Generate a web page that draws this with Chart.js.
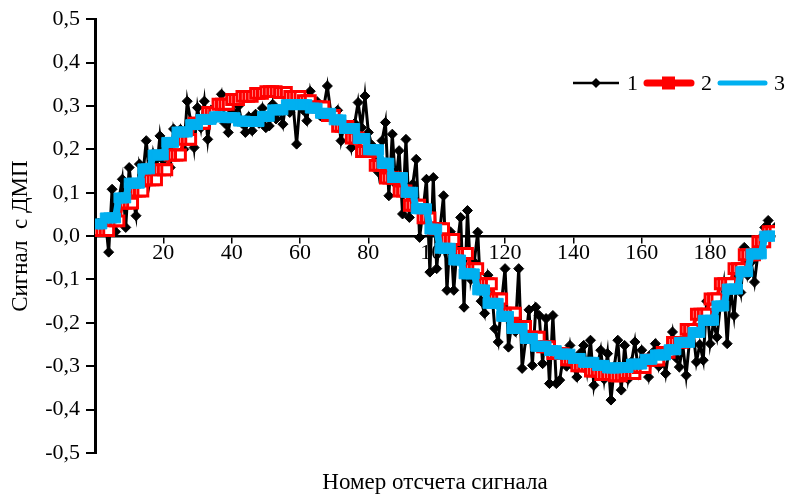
<!DOCTYPE html>
<html>
<head>
<meta charset="utf-8">
<script src="https://cdn.jsdelivr.net/npm/chart.js@4/dist/chart.umd.min.js"></script>
<style>
  html, body { margin: 0; padding: 0; background: #fff; }
  #wrap { width: 785px; height: 496px; }
</style>
</head>
<body>
<div id="wrap"><canvas id="chart" width="785" height="496"></canvas></div>
<script>
// Сигнал 1 - измеренный (шумный)
const signal1 = [
  0.03, 0.02, 0.04, -0.037, 0.108, 0.01, 0.085, 0.131, 0.02, 0.158,
  0.09, 0.047, 0.166, 0.14, 0.22, 0.13, 0.19, 0.15, 0.231, 0.175,
  0.2, 0.158, 0.247, 0.22, 0.246, 0.2, 0.311, 0.265, 0.204, 0.296,
  0.25, 0.311, 0.223, 0.29, 0.27, 0.3, 0.327, 0.26, 0.239, 0.29,
  0.28, 0.3, 0.26, 0.239, 0.275, 0.243, 0.281, 0.26, 0.295, 0.25,
  0.254, 0.304, 0.27, 0.29, 0.258, 0.319, 0.285, 0.3, 0.212, 0.31,
  0.29, 0.266, 0.334, 0.3, 0.31, 0.277, 0.3, 0.346, 0.285, 0.265,
  0.29, 0.22, 0.26, 0.245, 0.204, 0.26, 0.308, 0.25, 0.323, 0.239,
  0.21, 0.2, 0.147, 0.22, 0.262, 0.093, 0.235, 0.12, 0.197, 0.051,
  0.223, 0.043, 0.12, 0.177, -0.003, 0.06, 0.131, -0.083, 0.135, -0.075,
  0.02, 0.093, -0.125, 0.01, -0.125, -0.02, 0.043, -0.164, 0.059, -0.1,
  -0.06, 0.009, -0.15, -0.178, -0.09, -0.114, -0.213, -0.244, -0.15, -0.075,
  -0.256, -0.2, -0.22, -0.075, -0.305, -0.24, -0.17, -0.298, -0.164, -0.183,
  -0.294, -0.19, -0.34, -0.183, -0.34, -0.332, -0.28, -0.3, -0.252, -0.3,
  -0.325, -0.27, -0.252, -0.31, -0.24, -0.344, -0.3, -0.263, -0.33, -0.271,
  -0.378, -0.3, -0.24, -0.355, -0.252, -0.33, -0.29, -0.244, -0.31, -0.263,
  -0.29, -0.325, -0.27, -0.248, -0.3, -0.27, -0.317, -0.26, -0.221, -0.28,
  -0.302, -0.25, -0.321, -0.24, -0.217, -0.29, -0.25, -0.286, -0.15, -0.248,
  -0.2, -0.233, -0.16, -0.11, -0.248, -0.12, -0.183, -0.09, -0.13, -0.026,
  -0.09, -0.06, -0.106, -0.04, -0.003, 0.02, 0.036, 0.01, 0.02
];

// Сигнал 2 - сглаженный (красный), ступенчатый
const signal2 = [
  0.013, 0.013, 0.013, 0.013, 0.035, 0.035, 0.035, 0.076, 0.076, 0.076,
  0.076, 0.104, 0.104, 0.104, 0.13, 0.13, 0.13, 0.13, 0.153, 0.153,
  0.153, 0.187, 0.187, 0.187, 0.187, 0.223, 0.223, 0.223, 0.26, 0.26,
  0.26, 0.26, 0.285, 0.285, 0.285, 0.304, 0.304, 0.304, 0.304, 0.315,
  0.315, 0.315, 0.322, 0.322, 0.322, 0.322, 0.329, 0.329, 0.329, 0.333,
  0.333, 0.333, 0.333, 0.331, 0.331, 0.331, 0.322, 0.322, 0.322, 0.322,
  0.312, 0.312, 0.312, 0.298, 0.298, 0.298, 0.298, 0.278, 0.278, 0.278,
  0.253, 0.253, 0.253, 0.253, 0.226, 0.226, 0.226, 0.195, 0.195, 0.195,
  0.195, 0.163, 0.163, 0.163, 0.134, 0.134, 0.134, 0.134, 0.104, 0.104,
  0.104, 0.071, 0.071, 0.071, 0.071, 0.042, 0.042, 0.042, 0.017, 0.017,
  0.017, 0.017, -0.008, -0.008, -0.008, -0.04, -0.04, -0.04, -0.04, -0.075,
  -0.075, -0.075, -0.11, -0.11, -0.11, -0.11, -0.145, -0.145, -0.145, -0.178,
  -0.178, -0.178, -0.178, -0.208, -0.208, -0.208, -0.233, -0.233, -0.233, -0.233,
  -0.255, -0.255, -0.255, -0.271, -0.271, -0.271, -0.271, -0.285, -0.285, -0.285,
  -0.299, -0.299, -0.299, -0.299, -0.311, -0.311, -0.311, -0.319, -0.319, -0.319,
  -0.319, -0.322, -0.322, -0.322, -0.317, -0.317, -0.317, -0.317, -0.303, -0.303,
  -0.303, -0.286, -0.286, -0.286, -0.286, -0.268, -0.268, -0.268, -0.245, -0.245,
  -0.245, -0.245, -0.215, -0.215, -0.215, -0.18, -0.18, -0.18, -0.18, -0.145,
  -0.145, -0.145, -0.11, -0.11, -0.11, -0.11, -0.075, -0.075, -0.075, -0.043,
  -0.043, -0.043, -0.043, -0.013, -0.013, -0.013, 0.01, 0.01, 0.01
];

// Сигнал 3 - сглаженный (голубой), ступенчатый
const signal3 = [
  0.028, 0.028, 0.042, 0.042, 0.042, 0.042, 0.088, 0.088, 0.088, 0.122,
  0.122, 0.122, 0.122, 0.155, 0.155, 0.155, 0.187, 0.187, 0.187, 0.187,
  0.216, 0.216, 0.216, 0.24, 0.24, 0.24, 0.24, 0.257, 0.257, 0.257,
  0.269, 0.269, 0.269, 0.269, 0.275, 0.275, 0.275, 0.273, 0.273, 0.273,
  0.273, 0.265, 0.265, 0.265, 0.264, 0.264, 0.264, 0.264, 0.276, 0.276,
  0.276, 0.291, 0.291, 0.291, 0.291, 0.303, 0.303, 0.303, 0.303, 0.303,
  0.303, 0.303, 0.295, 0.295, 0.295, 0.283, 0.283, 0.283, 0.283, 0.268,
  0.268, 0.268, 0.248, 0.248, 0.248, 0.248, 0.225, 0.225, 0.225, 0.199,
  0.199, 0.199, 0.199, 0.168, 0.168, 0.168, 0.135, 0.135, 0.135, 0.135,
  0.101, 0.101, 0.101, 0.063, 0.063, 0.063, 0.063, 0.016, 0.016, 0.016,
  -0.028, -0.028, -0.028, -0.028, -0.055, -0.055, -0.055, -0.087, -0.087, -0.087,
  -0.087, -0.124, -0.124, -0.124, -0.155, -0.155, -0.155, -0.155, -0.185, -0.185,
  -0.185, -0.213, -0.213, -0.213, -0.213, -0.236, -0.236, -0.236, -0.254, -0.254,
  -0.254, -0.254, -0.264, -0.264, -0.264, -0.272, -0.272, -0.272, -0.272, -0.282,
  -0.282, -0.282, -0.291, -0.291, -0.291, -0.291, -0.298, -0.298, -0.298, -0.304,
  -0.304, -0.304, -0.304, -0.303, -0.303, -0.303, -0.295, -0.295, -0.295, -0.295,
  -0.284, -0.284, -0.284, -0.274, -0.274, -0.274, -0.274, -0.262, -0.262, -0.262,
  -0.245, -0.245, -0.245, -0.245, -0.222, -0.222, -0.222, -0.194, -0.194, -0.194,
  -0.194, -0.161, -0.161, -0.161, -0.122, -0.122, -0.122, -0.122, -0.082, -0.082,
  -0.082, -0.041, -0.041, -0.041, -0.041, 0.0, 0.0, 0.0, 0.0
];

const seriesNames = ['1', '2', '3'];
const xTickValues = [20, 40, 60, 80, 100, 120, 140, 160, 180];
const yTickValues = [-0.5, -0.4, -0.3, -0.2, -0.1, 0, 0.1, 0.2, 0.3, 0.4, 0.5];

// номера отсчетов 1..N
const samples = signal1.map((_, i) => i + 1);

const FONT = 'Liberation Serif, Times New Roman, serif';
const BLUE = '#00b0f0';
const RED = '#ff0000';

function fmt(v) {
  const r = Math.round(v * 10) / 10;
  return (Math.abs(r) < 1e-9 ? 0 : r).toFixed(1).replace('.', ',');
}

// легенда в правом верхнем углу, как в Excel
const cornerLegend = {
  id: 'cornerLegend',
  afterDatasetsDraw(chart) {
    const ctx = chart.ctx;
    const y = 83;
    const ds = chart.data.datasets;
    ctx.save();
    // 1
    ctx.strokeStyle = '#000'; ctx.lineWidth = 2.5; ctx.lineCap = 'butt';
    ctx.beginPath(); ctx.moveTo(573, y); ctx.lineTo(619, y); ctx.stroke();
    ctx.fillStyle = '#000';
    ctx.beginPath(); ctx.moveTo(596, y - 5); ctx.lineTo(601, y); ctx.lineTo(596, y + 5); ctx.lineTo(591, y); ctx.closePath(); ctx.fill();
    // 2
    ctx.strokeStyle = RED; ctx.lineWidth = 7; ctx.lineCap = 'round';
    ctx.beginPath(); ctx.moveTo(647, y); ctx.lineTo(691, y); ctx.stroke();
    ctx.fillStyle = RED;
    ctx.fillRect(662, y - 6.5, 13, 13);
    // 3
    ctx.strokeStyle = BLUE; ctx.lineWidth = 5;
    ctx.beginPath(); ctx.moveTo(720, y); ctx.lineTo(765, y); ctx.stroke();
    // подписи
    ctx.fillStyle = '#000';
    ctx.font = '22px ' + FONT;
    ctx.textBaseline = 'middle';
    ctx.textAlign = 'left';
    ctx.fillText(ds[0].label, 627, y + 1);
    ctx.fillText(ds[1].label, 701, y + 1);
    ctx.fillText(ds[2].label, 774, y + 1);
    ctx.restore();
  }
};

new Chart(document.getElementById('chart'), {
  type: 'line',
  data: {
    labels: samples,
    datasets: [{
      label: seriesNames[0],
      data: signal1,
      borderColor: '#000',
      backgroundColor: '#000',
      borderWidth: 3,
      pointStyle: 'rectRot',
      pointRadius: 5,
      pointBorderWidth: 1,
      pointBackgroundColor: '#000',
      pointBorderColor: '#000',
      tension: 0,
      order: 3
    }, {
      label: seriesNames[1],
      data: signal2,
      borderColor: RED,
      backgroundColor: '#fff',
      borderWidth: 4,
      pointStyle: 'rect',
      pointRadius: 7,
      pointBorderWidth: 3,
      pointBackgroundColor: '#fff',
      pointBorderColor: RED,
      tension: 0,
      order: 2
    }, {
      label: seriesNames[2],
      data: signal3,
      borderColor: BLUE,
      backgroundColor: BLUE,
      borderWidth: 7,
      pointStyle: 'rect',
      pointRadius: 7,
      pointBorderWidth: 1,
      pointBackgroundColor: BLUE,
      pointBorderColor: BLUE,
      tension: 0,
      order: 1
    }]
  },
  options: {
    responsive: false,
    animation: false,
    events: [],
    layout: { padding: { top: 18, right: 0, left: 0, bottom: 0 } },
    plugins: {
      legend: { display: false },
      tooltip: { enabled: false }
    },
    scales: {
      x: {
        type: 'linear',
        min: 0,
        max: 199,
        position: { y: 0 },
        afterBuildTicks(scale) {
          scale.ticks = xTickValues.map(v => ({ value: v }));
        },
        grid: { drawOnChartArea: false, drawTicks: true, tickLength: 6, color: '#000', lineWidth: 1.5 },
        border: { display: true, color: '#000', width: 2.5 },
        ticks: {
          color: '#000',
          font: { family: FONT, size: 22 },
          padding: -2,
          maxRotation: 0,
          autoSkip: false
        }
      },
      xt: {
        type: 'linear',
        position: 'bottom',
        display: true,
        grid: { display: false },
        border: { display: false },
        ticks: { display: false },
        afterFit(scale) { scale.height = 43; },
        title: {
          display: true,
          text: 'Номер отсчета сигнала',
          color: '#000',
          font: { family: FONT, size: 23 },
          padding: { top: 0, bottom: -1 }
        }
      },
      y: {
        min: -0.5,
        max: 0.5,
        afterBuildTicks(scale) {
          scale.ticks = yTickValues.map(v => ({ value: v }));
        },
        afterFit(scale) { scale.width = 95; },
        grid: { drawOnChartArea: false, drawTicks: true, tickLength: 9, color: '#000', lineWidth: 2 },
        border: { display: true, color: '#000', width: 3 },
        ticks: {
          color: '#000',
          font: { family: FONT, size: 22 },
          padding: 6,
          callback: v => fmt(v)
        },
        title: {
          display: true,
          text: 'Сигнал  с ДМП',
          color: '#000',
          font: { family: FONT, size: 23 },
          padding: { top: 7, bottom: 0 }
        }
      }
    }
  },
  plugins: [cornerLegend]
});
</script>
</body>
</html>
